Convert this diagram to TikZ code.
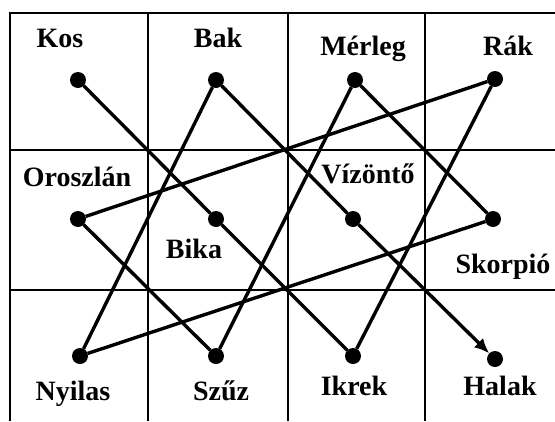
\documentclass[tikz,border=0pt]{standalone}
\usepackage{fontspec}
\setmainfont{Liberation Serif}
\usetikzlibrary{arrows.meta}
\tikzset{
  >=latex,
  % Punti e scritte
  dot/.style={circle,fill=black,minimum size=16pt,inner sep=0pt,outer sep=0pt},
  sign/.style={anchor=base,inner sep=0pt,font=\fontsize{28}{32}\selectfont\bfseries},
  % Griglia e collegamenti
  grid line/.style={line width=2.6pt},
  connect/.style={line width=3.4pt},
  connect arrow/.style={connect,-{Latex[length=15pt,width=13pt]}}
}
\begin{document}
\begin{tikzpicture}[x=1pt,y=-1pt]
    \useasboundingbox (0,0) rectangle (555,421);
    % griglia
    \draw[grid line] (10,421) -- (10,13) -- (555,13);
    \draw[grid line] (10,150) -- (555,150);
    \draw[grid line] (10,290) -- (555,290);
    \draw[grid line] (148,13) -- (148,421);
    \draw[grid line] (288,13) -- (288,421);
    \draw[grid line] (425,13) -- (425,421);
    \node[dot] (DotKos)      at (78,80)   {};
    \node[dot] (DotBak)      at (216,80)  {};
    \node[dot] (DotMerleg)   at (355,80)  {};
    \node[dot] (DotRak)      at (495,79)  {};
    \node[dot] (DotOroszlan) at (78,219)  {};
    \node[dot] (DotBika)     at (216,219) {};
    \node[dot] (DotVizonto)  at (353,219) {};
    \node[dot] (DotSkorpio)  at (493,219) {};
    \node[dot] (DotNyilas)   at (80,356)  {};
    \node[dot] (DotSzuz)     at (216,356) {};
    \node[dot] (DotIkrek)    at (353,356) {};
    \node[dot] (DotHalak)    at (495,359) {};
    \node[sign] (LabelKos)      at (60,47)   {Kos};
    \node[sign] (LabelBak)      at (218,47)  {Bak};
    \node[sign] (LabelMerleg)   at (363,55)  {Mérleg};
    \node[sign] (LabelRak)      at (508,55)  {Rák};
    \node[sign] (LabelOroszlan) at (77,186)  {Oroszlán};
    \node[sign] (LabelVizonto)  at (368,183) {Vízöntő};
    \node[sign] (LabelBika)     at (194,258) {Bika};
    \node[sign] (LabelSkorpio)  at (503,273) {Skorpió};
    \node[sign] (LabelNyilas)   at (73,400)  {Nyilas};
    \node[sign] (LabelSzuz)     at (221,400) {Szűz};
    \node[sign] (LabelIkrek)    at (354,395) {Ikrek};
    \node[sign] (LabelHalak)    at (500,395) {Halak};
    \draw[connect] (DotKos) -- (DotBika);
    \draw[connect] (DotBika) -- (DotIkrek);
    \draw[connect] (DotIkrek) -- (DotRak);
    \draw[connect] (DotRak) -- (DotOroszlan);
    \draw[connect] (DotOroszlan) -- (DotSzuz);
    \draw[connect] (DotSzuz) -- (DotMerleg);
    \draw[connect] (DotMerleg) -- (DotSkorpio);
    \draw[connect] (DotSkorpio) -- (DotNyilas);
    \draw[connect] (DotNyilas) -- (DotBak);
    \draw[connect] (DotBak) -- (DotVizonto);
    \draw[connect arrow] (DotVizonto) -- (DotHalak);
  \end{tikzpicture}
\end{document}
